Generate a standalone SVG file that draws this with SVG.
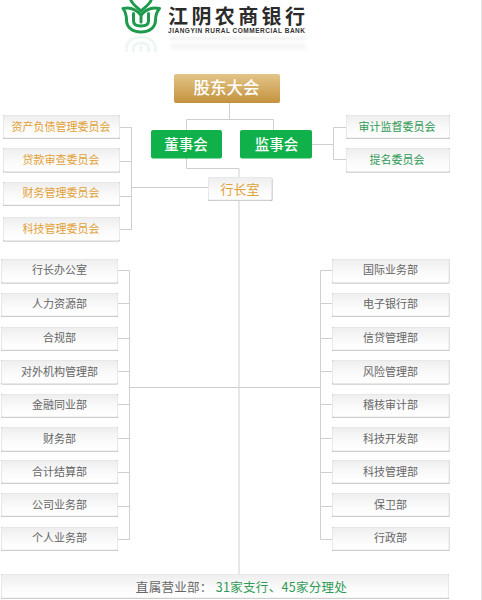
<svg xmlns="http://www.w3.org/2000/svg" width="482" height="600" viewBox="0 0 482 600">
<style>
text{font-family:"Noto Sans CJK SC","Liberation Sans",sans-serif;text-anchor:middle}
.b{fill:url(#g);stroke:#e8e8e8;stroke-width:1}
.s{fill:#b4b4b4;filter:url(#soft)}
.l{fill:none;stroke:#cfcfcf;stroke-width:1}
.o{font-size:11px;fill:#e2a136}
.n{font-size:11px;fill:#666}
.e{font-size:11px;fill:#2f9a55}
.w{font-size:16.500px;fill:#fff;font-weight:500}
.m{fill:none;stroke:#1d9a4c;stroke-width:3;stroke-linejoin:round;stroke-linecap:round}
</style>
<defs>
<filter id="soft" x="-5%" y="-20%" width="110%" height="140%"><feGaussianBlur stdDeviation="0.6"/></filter>
<filter id="soft2" x="-5%" y="-50%" width="110%" height="200%"><feGaussianBlur stdDeviation="1.2"/></filter>
<linearGradient id="g" x1="0" y1="0" x2="0" y2="1"><stop offset="0" stop-color="#eeeeee"/><stop offset="0.6" stop-color="#fbfbfb"/><stop offset="1" stop-color="#fff"/></linearGradient>
<linearGradient id="au" x1="0" y1="0" x2="0" y2="1"><stop offset="0" stop-color="#e3c588"/><stop offset="1" stop-color="#c4923e"/></linearGradient>
<g id="mark" class="m">
<path d="M123 8.500C129 7 136 9 141 15C146 9 153 7 159.500 8.500C156.500 12 155.500 15 155.500 20C155.500 27 150 32 141 32C132 32 126.500 27 126.500 20C126.500 15 125.500 12 123 8.500Z"/>
<path d="M133.500 13.500V21C133.500 24.500 136 26 141 26C146 26 148.500 24.500 148.500 21V13.500"/>
<path d="M141 15V22"/>
<path d="M131 0.500C133 5 137 7 141 11C145 7 149 5 151 0.500"/>
</g>
<clipPath id="rc"><rect x="120" y="36" width="44" height="16"/></clipPath>
</defs>
<rect x="481" y="0" width="1" height="600" fill="#e4e4e4"/>
<g id="logo">
<use href="#mark"/>
<text x="236.500" y="23.500" style="font-size:20px;font-weight:700;fill:#2b2b2b" textLength="137" lengthAdjust="spacing">江阴农商银行</text>
<text x="236.500" y="32.500" style="font-family:'Liberation Sans',sans-serif;font-size:6.500px;font-weight:700;fill:#333" textLength="137" lengthAdjust="spacing">JIANGYIN RURAL COMMERCIAL BANK</text>
<g clip-path="url(#rc)" opacity=".07"><use href="#mark" transform="translate(0,69) scale(1,-1)"/></g>
<rect x="170" y="37" width="136" height="3" fill="#888" opacity=".1" filter="url(#soft2)"/>
<rect x="170" y="43" width="136" height="7" fill="#888" opacity=".06" filter="url(#soft2)"/>
</g>
<g id="connectors">
<path class="l" d="M229.500 102V119.500M186.500 130V119.500H273.500V130"/>
<path class="l" d="M186.500 158V168.500H239V177"/>
<path class="l" d="M120 127.500H131.500V229.500H120M120 161.500H131.500M120 196.500H131.500M131.500 187.500H208"/>
<path class="l" d="M312 144.500H333.500M346 127.500H333.500V159.500H346"/>
<path class="l" d="M239 200V574"/>
<path class="l" d="M117 270.500H129.500V539.500H117M117 303.500H129.500M117 338.500H129.500M117 371.500H129.500M117 404.500H129.500M117 438.500H129.500M117 472.500H129.500M117 506.500H129.500"/>
<path class="l" d="M129.500 387.500H320.500"/>
<path class="l" d="M332 270.500H320.500V539.500H332M332 303.500H320.500M332 338.500H320.500M332 371.500H320.500M332 404.500H320.500M332 438.500H320.500M332 472.500H320.500M332 506.500H320.500"/>
</g>
<g id="gudong"><rect x="174" y="74" width="106" height="29" rx="2" fill="url(#au)"/><text class="w" x="226.500" y="94">股东大会</text></g>
<g id="dongshi"><rect x="151" y="130" width="71" height="28.500" rx="2" fill="#10b04a"/><text class="w" style="font-size:14.500px" x="186" y="149.500">董事会</text></g>
<g id="jianshi"><rect x="240" y="130" width="72" height="28.500" rx="2" fill="#10b04a"/><text class="w" style="font-size:14.500px" x="276.500" y="149.500">监事会</text></g>
<g id="hangzhang"><rect class="s" x="208" y="178" width="64.500" height="23" rx="1"/><rect class="b" x="208.500" y="177.500" width="63" height="22.500" rx="1"/><text class="o" style="font-size:13px" x="240" y="193.500">行长室</text></g>
<g id="c1"><rect class="s" x="3" y="115" width="117" height="24" rx="1"/><rect class="b" x="3.500" y="115.500" width="116" height="22.500" rx="1"/><text class="o" x="61" y="130.500">资产负债管理委员会</text></g>
<g id="c2"><rect class="s" x="3" y="148" width="117" height="24.500" rx="1"/><rect class="b" x="3.500" y="148.500" width="116" height="23" rx="1"/><text class="o" x="61" y="163.500">贷款审查委员会</text></g>
<g id="c3"><rect class="s" x="3" y="182" width="117" height="24" rx="1"/><rect class="b" x="3.500" y="182.500" width="116" height="22.500" rx="1"/><text class="o" x="61" y="197">财务管理委员会</text></g>
<g id="c4"><rect class="s" x="3" y="217" width="117" height="24.500" rx="1"/><rect class="b" x="3.500" y="217.500" width="116" height="23" rx="1"/><text class="o" x="61" y="232.500">科技管理委员会</text></g>
<g id="r1"><rect class="s" x="346" y="115" width="104" height="24" rx="1"/><rect class="b" x="346.500" y="115.500" width="103" height="22.500" rx="1"/><text class="e" x="397" y="130.500">审计监督委员会</text></g>
<g id="r2"><rect class="s" x="346" y="148" width="104" height="24.500" rx="1"/><rect class="b" x="346.500" y="148.500" width="103" height="23" rx="1"/><text class="e" x="397" y="164">提名委员会</text></g>
<g id="d1"><rect class="s" x="1" y="259" width="117" height="24.500" rx="1"/><rect class="b" x="1.500" y="259.500" width="116" height="23" rx="1"/><text class="n" x="59.500" y="274">行长办公室</text></g>
<g id="d2"><rect class="s" x="1" y="293" width="117" height="24" rx="1"/><rect class="b" x="1.500" y="293.500" width="116" height="22.500" rx="1"/><text class="n" x="59.500" y="308">人力资源部</text></g>
<g id="d3"><rect class="s" x="1" y="327" width="117" height="24" rx="1"/><rect class="b" x="1.500" y="327.500" width="116" height="22.500" rx="1"/><text class="n" x="59.500" y="342">合规部</text></g>
<g id="d4"><rect class="s" x="1" y="360" width="117" height="24.500" rx="1"/><rect class="b" x="1.500" y="360.500" width="116" height="23" rx="1"/><text class="n" x="59.500" y="375.500">对外机构管理部</text></g>
<g id="d5"><rect class="s" x="1" y="394" width="117" height="24" rx="1"/><rect class="b" x="1.500" y="394.500" width="116" height="22.500" rx="1"/><text class="n" x="59.500" y="409">金融同业部</text></g>
<g id="d6"><rect class="s" x="1" y="427" width="117" height="25" rx="1"/><rect class="b" x="1.500" y="427.500" width="116" height="23.500" rx="1"/><text class="n" x="59.500" y="442.500">财务部</text></g>
<g id="d7"><rect class="s" x="1" y="460" width="117" height="24" rx="1"/><rect class="b" x="1.500" y="460.500" width="116" height="22.500" rx="1"/><text class="n" x="59.500" y="475.500">合计结算部</text></g>
<g id="d8"><rect class="s" x="1" y="493" width="117" height="24" rx="1"/><rect class="b" x="1.500" y="493.500" width="116" height="22.500" rx="1"/><text class="n" x="59.500" y="508.500">公司业务部</text></g>
<g id="d9"><rect class="s" x="1" y="527" width="117" height="24" rx="1"/><rect class="b" x="1.500" y="527.500" width="116" height="22.500" rx="1"/><text class="n" x="59.500" y="542">个人业务部</text></g>
<g id="e1"><rect class="s" x="332" y="259" width="117.500" height="24.500" rx="1"/><rect class="b" x="332.500" y="259.500" width="116.500" height="23" rx="1"/><text class="n" x="390.500" y="274">国际业务部</text></g>
<g id="e2"><rect class="s" x="332" y="293" width="117.500" height="24" rx="1"/><rect class="b" x="332.500" y="293.500" width="116.500" height="22.500" rx="1"/><text class="n" x="390.500" y="308">电子银行部</text></g>
<g id="e3"><rect class="s" x="332" y="327" width="117.500" height="24" rx="1"/><rect class="b" x="332.500" y="327.500" width="116.500" height="22.500" rx="1"/><text class="n" x="390.500" y="342">信贷管理部</text></g>
<g id="e4"><rect class="s" x="332" y="360" width="117.500" height="24.500" rx="1"/><rect class="b" x="332.500" y="360.500" width="116.500" height="23" rx="1"/><text class="n" x="390.500" y="375.500">风险管理部</text></g>
<g id="e5"><rect class="s" x="332" y="394" width="117.500" height="24" rx="1"/><rect class="b" x="332.500" y="394.500" width="116.500" height="22.500" rx="1"/><text class="n" x="390.500" y="409">稽核审计部</text></g>
<g id="e6"><rect class="s" x="332" y="427" width="117.500" height="25" rx="1"/><rect class="b" x="332.500" y="427.500" width="116.500" height="23.500" rx="1"/><text class="n" x="390.500" y="442.500">科技开发部</text></g>
<g id="e7"><rect class="s" x="332" y="460" width="117.500" height="24" rx="1"/><rect class="b" x="332.500" y="460.500" width="116.500" height="22.500" rx="1"/><text class="n" x="390.500" y="475.500">科技管理部</text></g>
<g id="e8"><rect class="s" x="332" y="493" width="117.500" height="24" rx="1"/><rect class="b" x="332.500" y="493.500" width="116.500" height="22.500" rx="1"/><text class="n" x="390.500" y="508.500">保卫部</text></g>
<g id="e9"><rect class="s" x="332" y="527" width="117.500" height="24" rx="1"/><rect class="b" x="332.500" y="527.500" width="116.500" height="22.500" rx="1"/><text class="n" x="390.500" y="542">行政部</text></g>
<g id="bottom"><rect class="s" x="1" y="574" width="448" height="25" rx="1"/><rect class="b" x="1.500" y="574.500" width="447" height="23.500" rx="1"/><text x="241.500" y="592" style="font-size:12.500px;fill:#666;letter-spacing:.3px">直属营业部： <tspan fill="#2f9a55">31家支行、45家分理处</tspan></text></g>
</svg>
